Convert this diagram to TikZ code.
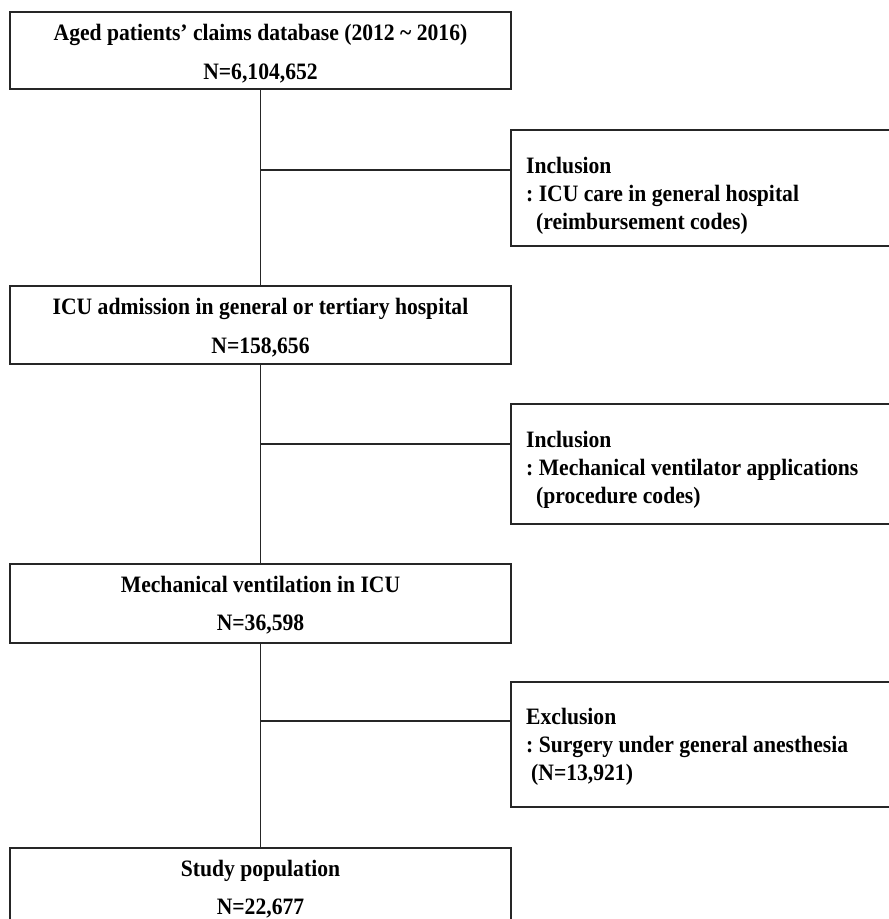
\documentclass[tikz,border=0pt]{standalone}
\usepackage{fontspec}
\setmainfont{Liberation Serif}[FakeStretch=0.92]
\frenchspacing
\begin{document}
\begin{tikzpicture}[x=1pt,y=-1pt,
  box/.style={draw=black!85,line width=1.6pt,inner sep=0pt},
  txt/.style={font=\fontsize{23.5}{27}\selectfont\bfseries,inner sep=0pt,anchor=base},
  sidetxt/.style={txt,anchor=base west},
  link/.style={draw=black!85,line width=1.5pt}]
\useasboundingbox (0,0) rectangle (889,919);
% main boxes
\node[box,minimum width=501pt,minimum height=77pt] (b1) at (260.5,50.5) {};
\node[box,minimum width=501pt,minimum height=78pt] (b2) at (260.5,325) {};
\node[box,minimum width=501pt,minimum height=79pt] (b3) at (260.5,603.5) {};
\node[box,minimum width=501pt,minimum height=78pt] (b4) at (260.5,887) {};
% side boxes
\node[box,minimum width=384pt,minimum height=116pt] (s1) at (703,188) {};
\node[box,minimum width=384pt,minimum height=120pt] (s2) at (703,464) {};
\node[box,minimum width=384pt,minimum height=125pt] (s3) at (703,744.5) {};
% main texts
\node[txt] (t1a) at (260.5,40) {Aged patients’ claims database (2012 \textasciitilde{} 2016)};
\node[txt] (t1b) at (260.5,79) {N=6,104,652};
\node[txt] (t2a) at (260.5,314) {ICU admission in general or tertiary hospital};
\node[txt] (t2b) at (260.5,353) {N=158,656};
\node[txt] (t3a) at (260.5,592) {Mechanical ventilation in ICU};
\node[txt] (t3b) at (260.5,630) {N=36,598};
\node[txt] (t4a) at (260.5,876) {Study population};
\node[txt] (t4b) at (260.5,914) {N=22,677};
% side texts
\node[sidetxt] (s1a) at (526,173) {Inclusion};
\node[sidetxt] (s1b) at (526,201) {: ICU care in general hospital};
\node[sidetxt] (s1c) at (536,229) {(reimbursement codes)};
\node[sidetxt] (s2a) at (526,447) {Inclusion};
\node[sidetxt] (s2b) at (526,475) {: Mechanical ventilator applications};
\node[sidetxt] (s2c) at (536,503) {(procedure codes)};
\node[sidetxt] (s3a) at (526,724) {Exclusion};
\node[sidetxt] (s3b) at (526,752) {: Surgery under general anesthesia};
\node[sidetxt] (s3c) at (531,780) {(N=13,921)};
% connectors
\draw[link] (b1.south) -- (b2.north);
\draw[link] (b2.south) -- (b3.north);
\draw[link] (b3.south) -- (b4.north);
\coordinate (j1) at (260.5,170);
\coordinate (j2) at (260.5,444);
\coordinate (j3) at (260.5,721);
\draw[link] (j1) -- (j1 -| s1.west);
\draw[link] (j2) -- (j2 -| s2.west);
\draw[link] (j3) -- (j3 -| s3.west);
\end{tikzpicture}
\end{document}
